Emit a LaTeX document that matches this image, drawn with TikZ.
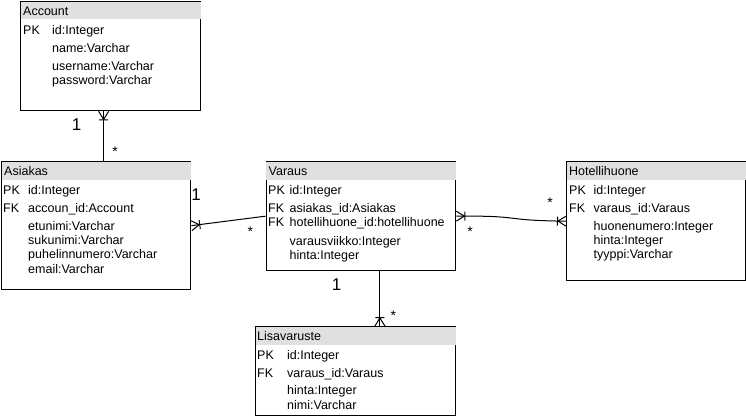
\documentclass[tikz,border=0pt]{standalone}
\usepackage{fontspec}
\setmainfont{Liberation Sans}
\usetikzlibrary{arrows.meta}
\pgfdeclarearrow{
  name = Crow,
  setup code = {
    \pgfarrowssettipend{0pt}
    \pgfarrowssetlineend{0pt}
    \pgfarrowssetbackend{-9pt}
    \pgfarrowssetvisualbackend{-9pt}
    \pgfarrowshullpoint{0pt}{5pt}
    \pgfarrowshullpoint{0pt}{-5pt}
    \pgfarrowshullpoint{-8pt}{0pt}
  },
  drawing code = {
    \pgfsetdash{}{0pt}
    \pgfpathmoveto{\pgfpoint{-8pt}{0pt}}
    \pgfpathlineto{\pgfpoint{0pt}{5pt}}
    \pgfpathmoveto{\pgfpoint{-8pt}{0pt}}
    \pgfpathlineto{\pgfpoint{0pt}{-5pt}}
    \pgfpathmoveto{\pgfpoint{-8.5pt}{4.5pt}}
    \pgfpathlineto{\pgfpoint{-8.5pt}{-4.5pt}}
    \pgfusepathqstroke
  }
}
\definecolor{hdrgray}{HTML}{E0E0E0}
\begin{document}
\begin{tikzpicture}[x=1pt,y=-1pt,
  every node/.style={font=\fontsize{12.5pt}{14pt}\selectfont},
  tbl/.style={draw, line width=1.3pt, fill=white, inner sep=0pt, anchor=north west},
  hdr/.style={fill=hdrgray},
  fld/.style={anchor=base west, inner sep=0pt},
  one/.style={font=\fontsize{17pt}{19pt}\selectfont, inner sep=0pt},
  many/.style={anchor=north, inner sep=0pt, font=\fontsize{14pt}{16pt}\selectfont},
  conn/.style={line width=1pt}]
\useasboundingbox (0,0) rectangle (746,416);

% Account
\node[tbl, minimum width=180pt, minimum height=109pt] (acc) at (20,1) {};
\fill[hdr] ([xshift=0.65pt,yshift=-0.65pt]acc.north west) rectangle ([xshift=-0.65pt,yshift=-18pt]acc.north east);
\node[fld] (acct) at (23,15) {Account};
\node[fld] (accpk) at (23,34) {PK};
\node[fld] (acc1) at (52,34) {id:Integer};
\node[fld] (acc2) at (52,52) {name:Varchar};
\node[fld] (acc3) at (52,70) {username:Varchar};
\node[fld] (acc4) at (52,84) {password:Varchar};

% Asiakas
\node[tbl, minimum width=189pt, minimum height=128pt] (asi) at (1,161) {};
\fill[hdr] ([xshift=0.65pt,yshift=-0.65pt]asi.north west) rectangle ([xshift=-0.65pt,yshift=-19pt]asi.north east);
\node[fld] (asit) at (4,175) {Asiakas};
\node[fld] (asipk) at (3,194) {PK};
\node[fld] (asi1) at (28,194) {id:Integer};
\node[fld] (asifk) at (3,212) {FK};
\node[fld] (asi2) at (28,212) {accoun\_id:Account};
\node[fld] (asi3) at (28,230) {etunimi:Varchar};
\node[fld] (asi4) at (28,244.3) {sukunimi:Varchar};
\node[fld] (asi5) at (28,258.7) {puhelinnumero:Varchar};
\node[fld] (asi6) at (28,273) {email:Varchar};

% Varaus
\node[tbl, minimum width=189.5pt, minimum height=109pt] (var) at (265.5,161) {};
\fill[hdr] ([xshift=0.65pt,yshift=-0.65pt]var.north west) rectangle ([xshift=-0.65pt,yshift=-19pt]var.north east);
\node[fld] (vart) at (268.5,175) {Varaus};
\node[fld] (varpk) at (268,194) {PK};
\node[fld] (var1) at (289.5,194) {id:Integer};
\node[fld] (varfk1) at (268,212) {FK};
\node[fld] (var2) at (289.5,212) {asiakas\_id:Asiakas};
\node[fld] (varfk2) at (268,226) {FK};
\node[fld] (var3) at (289.5,226) {hotellihuone\_id:hotellihuone};
\node[fld] (var4) at (289.5,245) {varausviikko:Integer};
\node[fld] (var5) at (289.5,259) {hinta:Integer};

% Hotellihuone
\node[tbl, minimum width=179pt, minimum height=119pt] (hot) at (566,161) {};
\fill[hdr] ([xshift=0.65pt,yshift=-0.65pt]hot.north west) rectangle ([xshift=-0.65pt,yshift=-19pt]hot.north east);
\node[fld] (hott) at (569,175) {Hotellihuone};
\node[fld] (hotpk) at (569,194) {PK};
\node[fld] (hot1) at (593.5,194) {id:Integer};
\node[fld] (hotfk) at (569,212) {FK};
\node[fld] (hot2) at (593.5,212) {varaus\_id:Varaus};
\node[fld] (hot3) at (593.5,230) {huonenumero:Integer};
\node[fld] (hot4) at (593.5,244.3) {hinta:Integer};
\node[fld] (hot5) at (593.5,258.7) {tyyppi:Varchar};

% Lisavaruste
\node[tbl, minimum width=200pt, minimum height=89pt] (lis) at (255,326) {};
\fill[hdr] ([xshift=0.65pt,yshift=-0.65pt]lis.north west) rectangle ([xshift=-0.65pt,yshift=-19pt]lis.north east);
\node[fld] (list) at (257,340) {Lisavaruste};
\node[fld] (lispk) at (257,359) {PK};
\node[fld] (lis1) at (287,359) {id:Integer};
\node[fld] (lisfk) at (257,377) {FK};
\node[fld] (lis2) at (287,377) {varaus\_id:Varaus};
\node[fld] (lis3) at (287,394) {hinta:Integer};
\node[fld] (lis4) at (287,409) {nimi:Varchar};

% connectors
\draw[conn, Crow-] ([xshift=-7pt]acc.south) -- ([xshift=-7pt]acc.south |- asi.north);
\draw[conn, Crow-] (asi.east) -- (var.west);
\draw[conn, Crow-Crow] (var.east) .. controls (525,215.5) and (500,220.5) .. (hot.west);
\draw[conn, -Crow] ([xshift=19pt]var.south) -- ([xshift=19pt]var.south |- lis.north);

% multiplicities
\node[one] (m1) at (76.7,124.3) {1};
\node[many] (m2) at (115,146.5) {*};
\node[one] (m3) at (196,194.3) {1};
\node[many] (m4) at (250.3,226.5) {*};
\node[many] (m5) at (550,197.2) {*};
\node[many] (m6) at (470,226.5) {*};
\node[one] (m7) at (336.7,285) {1};
\node[many] (m8) at (393.3,310.8) {*};
\end{tikzpicture}
\end{document}
